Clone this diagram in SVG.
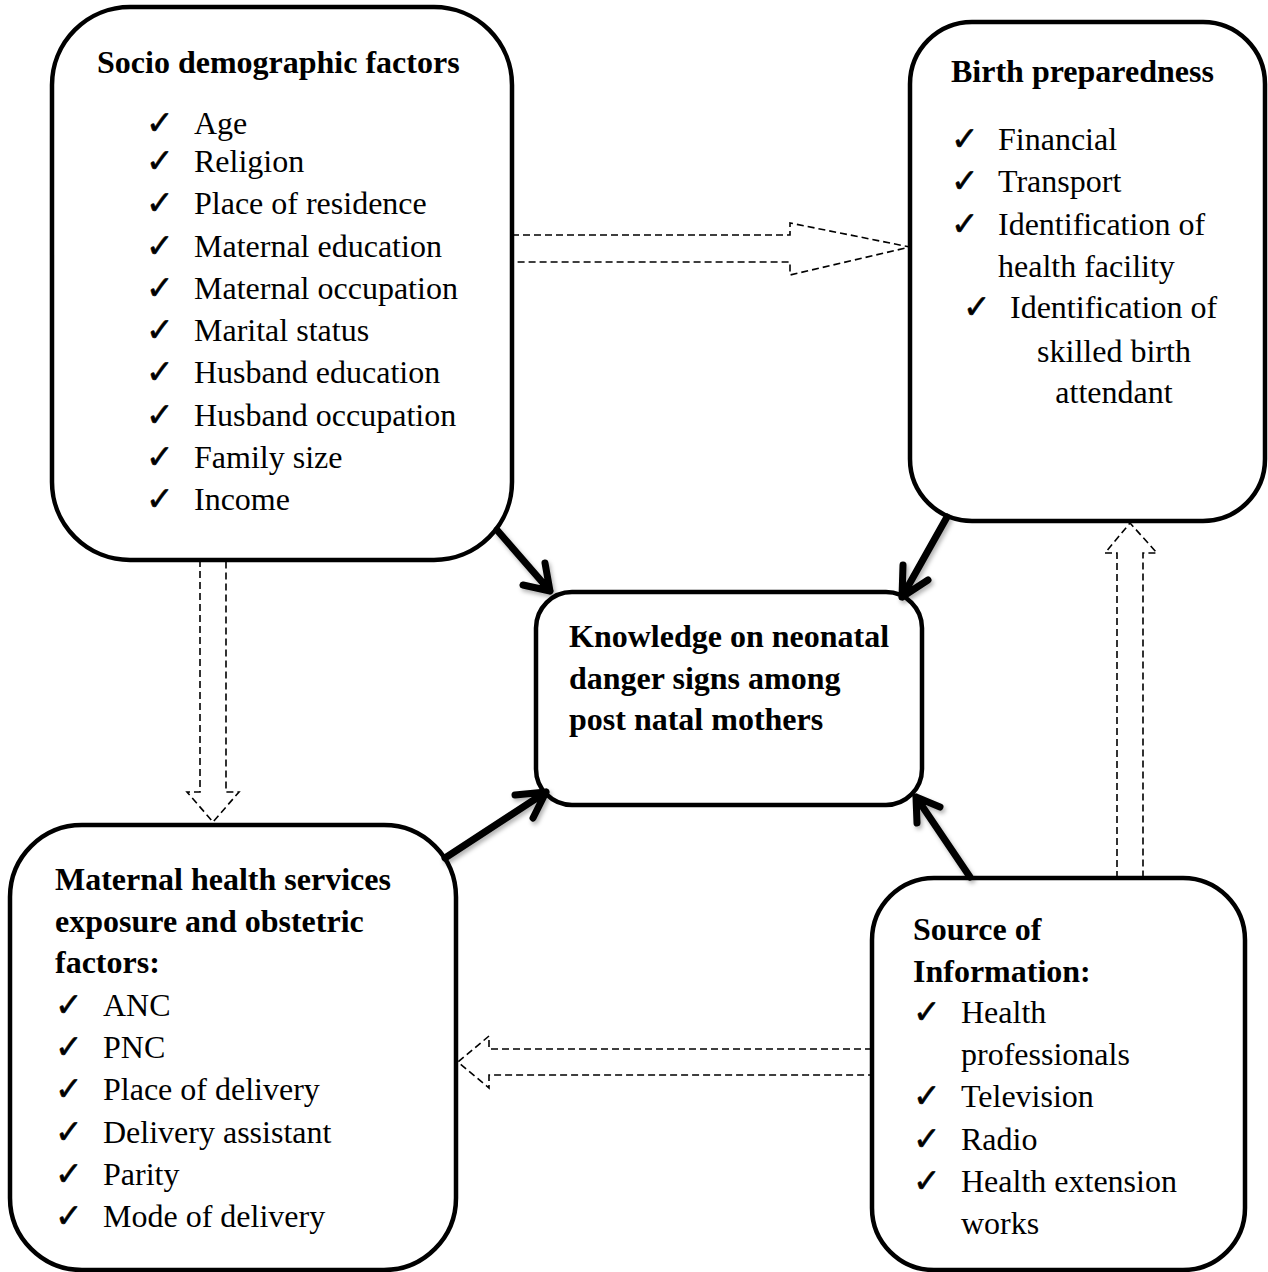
<svg xmlns="http://www.w3.org/2000/svg" width="1268" height="1272" viewBox="0 0 1268 1272">
<defs>
<style>
.box{fill:#fff;stroke:#000;stroke-width:4.5}
.t{font-family:"Liberation Serif","Times New Roman",serif;font-size:32px;fill:#000}
.b{font-weight:bold}
.ck{font-family:"DejaVu Sans",sans-serif;font-size:33px;fill:#000;stroke:#000;stroke-width:0.6}
.dash{fill:none;stroke:#000;stroke-width:1.6;stroke-dasharray:7,4}
.thick{fill:none;stroke:#000;stroke-width:7;stroke-linecap:round;stroke-linejoin:round}
</style>
<filter id="sh" x="-20%" y="-20%" width="140%" height="140%">
<feDropShadow dx="2" dy="3" stdDeviation="2" flood-color="#000" flood-opacity="0.3"/>
</filter>
</defs>
<rect width="1268" height="1272" fill="#fff"/>

<g id="socio">
<rect class="box" x="52" y="7" width="460" height="553" rx="78" ry="78"/>
<text class="t b" x="97" y="73">Socio demographic factors</text>
<g class="ck"><text x="146" y="134">✓</text><text x="146" y="172">✓</text><text x="146" y="214">✓</text><text x="146" y="256.5">✓</text><text x="146" y="298.5">✓</text><text x="146" y="341">✓</text><text x="146" y="383">✓</text><text x="146" y="425.5">✓</text><text x="146" y="468">✓</text><text x="146" y="510">✓</text></g>
<text class="t" x="194" y="134">Age</text>
<text class="t" x="194" y="172">Religion</text>
<text class="t" x="194" y="214">Place of residence</text>
<text class="t" x="194" y="256.5">Maternal education</text>
<text class="t" x="194" y="298.5">Maternal occupation</text>
<text class="t" x="194" y="341">Marital status</text>
<text class="t" x="194" y="383">Husband education</text>
<text class="t" x="194" y="425.5">Husband occupation</text>
<text class="t" x="194" y="468">Family size</text>
<text class="t" x="194" y="510">Income</text>
</g>

<g id="birth">
<rect class="box" x="910" y="22" width="355" height="499" rx="62" ry="62"/>
<text class="t b" x="951" y="82">Birth preparedness</text>
<g class="ck"><text x="951" y="150">✓</text><text x="951" y="192">✓</text><text x="951" y="235">✓</text><text x="963" y="318">✓</text></g>
<text class="t" x="998" y="150">Financial</text>
<text class="t" x="998" y="192">Transport</text>
<text class="t" x="998" y="235">Identification of</text>
<text class="t" x="998" y="277">health facility</text>
<text class="t" x="1010" y="318">Identification of</text>
<text class="t" x="1114" y="362" text-anchor="middle">skilled birth</text>
<text class="t" x="1114" y="403" text-anchor="middle">attendant</text>
</g>

<g id="knowledge">
<rect class="box" x="536" y="592" width="386" height="213" rx="36" ry="36"/>
<text class="t b" x="569" y="647">Knowledge on neonatal</text>
<text class="t b" x="569" y="689">danger signs among</text>
<text class="t b" x="569" y="730">post natal mothers</text>
</g>

<g id="maternal">
<rect class="box" x="10" y="825" width="446" height="445" rx="72" ry="72"/>
<text class="t b" x="55" y="890">Maternal health services</text>
<text class="t b" x="55" y="932">exposure and obstetric</text>
<text class="t b" x="55" y="973">factors:</text>
<g class="ck"><text x="55" y="1016">✓</text><text x="55" y="1058">✓</text><text x="55" y="1100">✓</text><text x="55" y="1143">✓</text><text x="55" y="1185">✓</text><text x="55" y="1227">✓</text></g>
<text class="t" x="103" y="1016">ANC</text>
<text class="t" x="103" y="1058">PNC</text>
<text class="t" x="103" y="1100">Place of delivery</text>
<text class="t" x="103" y="1143">Delivery assistant</text>
<text class="t" x="103" y="1185">Parity</text>
<text class="t" x="103" y="1227">Mode of delivery</text>
</g>

<g id="source">
<rect class="box" x="872" y="878" width="373" height="392" rx="62" ry="62"/>
<text class="t b" x="913" y="940">Source of</text>
<text class="t b" x="913" y="982">Information:</text>
<g class="ck"><text x="913" y="1023">✓</text><text x="913" y="1107">✓</text><text x="913" y="1150">✓</text><text x="913" y="1192">✓</text></g>
<text class="t" x="961" y="1023">Health</text>
<text class="t" x="961" y="1065">professionals</text>
<text class="t" x="961" y="1107">Television</text>
<text class="t" x="961" y="1150">Radio</text>
<text class="t" x="961" y="1192">Health extension</text>
<text class="t" x="961" y="1234">works</text>
</g>

<g id="connectors">
<path class="dash" d="M512,235 H790 V223 L910,247 L790,275 V262 H512"/>
<path class="dash" d="M200,560 V792 H187 L213,822 L239,792 H226 V560"/>
<path class="dash" d="M1117,878 V553 H1105 L1130,523 L1157,553 H1143 V878"/>
<path class="dash" d="M872,1049 H489 V1036 L458,1062 L489,1088 V1075 H872"/>
<g filter="url(#sh)">
<path class="thick" d="M497,530 L550,591 M523,585 L550,591 L545,563"/>
<path class="thick" d="M947,517 L902,597 M903,565 L902,597 L928,580"/>
<path class="thick" d="M445,858 L546,792 M515,795 L546,792 L533,818"/>
<path class="thick" d="M970,877 L916,797 M917,823 L916,797 L940,807"/>
</g>
</g>
</svg>
